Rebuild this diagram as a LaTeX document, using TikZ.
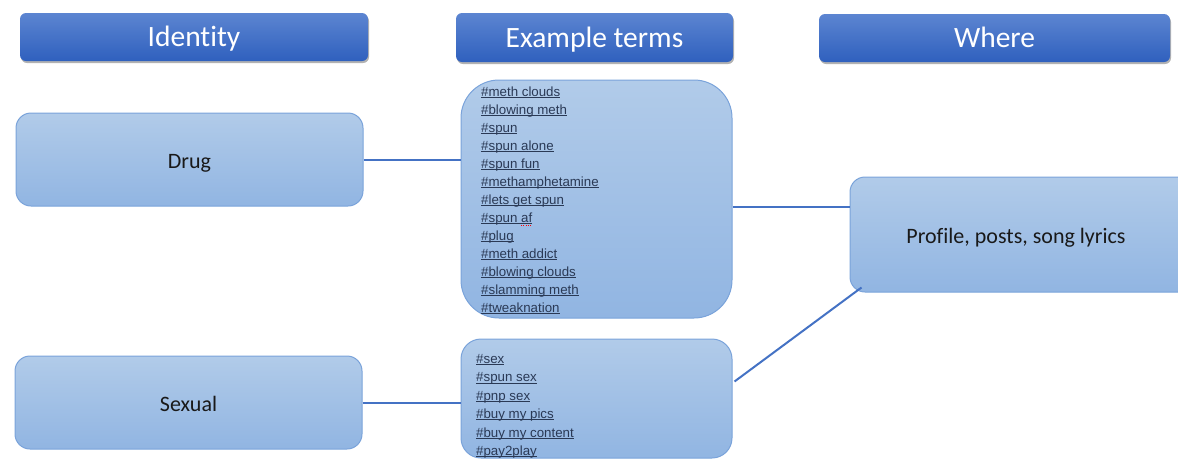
\documentclass[tikz,border=0pt]{standalone}
\usepackage{fontspec}
\setmainfont{Carlito}[Ligatures={NoCommon}]
\newfontfamily\arialf{Liberation Sans}
\usetikzlibrary{shadows}
\definecolor{hdtop}{HTML}{5C85D1}
\definecolor{hdbot}{HTML}{2F60BE}
\definecolor{bxtop}{HTML}{B1CBE9}
\definecolor{bxbot}{HTML}{91B5E2}
\definecolor{bxline}{HTML}{7AA3DA}
\definecolor{conn}{HTML}{4472C4}
\definecolor{termtxt}{HTML}{2A3955}
\newcommand\hu[1]{\setbox0=\hbox{#1}\rlap{\rule[-1.4pt]{\wd0}{0.7pt}}\box0}
\newcommand\squig[1]{\setbox0=\hbox{#1}\rlap{\raisebox{-3.4pt}{\color{red}\makebox[\wd0][l]{\xleaders\hbox to 2.2pt{\rule{1.1pt}{0.8pt}\hss}\hskip\wd0}}}\box0}
\tikzset{
  header/.style={rounded corners=6pt, top color=hdtop, bottom color=hdbot, draw=none,
    drop shadow={shadow xshift=1pt, shadow yshift=-2pt, opacity=0.3, fill=black},
    text=white, font=\fontsize{29.5}{32}\selectfont, inner sep=0pt,
    text height=19.5pt, text depth=0pt},
  lbox/.style={draw=bxline, line width=1pt, top color=bxtop, bottom color=bxbot,
    inner sep=0pt},
  lbl/.style={text=black!90, font=\fontsize{22}{24}\selectfont, inner sep=0pt,
    text height=18pt, text depth=0pt},
  terms/.style={anchor=north west, inner sep=0pt, align=left, text=termtxt},
  conn/.style={draw=conn, line width=2pt}
}
\begin{document}
\begin{tikzpicture}[x=1pt,y=-1pt]
\useasboundingbox (0,0) rectangle (1178,459);
% headers
\node[header, minimum width=348pt, minimum height=48pt] (hid) at (194,37) {Identity};
\node[header, minimum width=277pt, minimum height=49pt] (hex) at (594.5,37.5) {Example terms};
\node[header, minimum width=351pt, minimum height=48pt] (hwh) at (994.5,38) {Where};
% identity boxes
\node[lbox, lbl, rounded corners=15pt, minimum width=347pt, minimum height=93pt] (drug) at (189.5,159.5) {Drug};
\node[lbox, lbl, rounded corners=15pt, minimum width=347pt, minimum height=93pt] (sexual) at (188.5,402.5) {Sexual};
% term boxes
\node[lbox, rounded corners=38pt, minimum width=271pt, minimum height=238pt] (dterms) at (596.5,199) {};
\node[lbox, rounded corners=20pt, minimum width=271pt, minimum height=119pt] (sterms) at (596.5,398.5) {};
% where box
\node[lbox, rounded corners=15pt, minimum width=360pt, minimum height=115pt] (where) at (1030,234.5) {};
\node[lbl] (wlabel) at (1016,234.5) {Profile, posts, song lyrics};
% term lists
\node[terms, font=\arialf\fontsize{13.3}{18}\selectfont] (dlist) at (481,83.4) {%
\strut\hu{\#meth clouds}\\
\strut\hu{\#blowing meth}\\
\strut\hu{\#spun}\\
\strut\hu{\#spun alone}\\
\strut\hu{\#spun fun}\\
\strut\hu{\#methamphetamine}\\
\strut\hu{\#lets get spun}\\
\strut\hu{\#spun \squig{af}}\\
\strut\hu{\#plug}\\
\strut\hu{\#meth addict}\\
\strut\hu{\#blowing clouds}\\
\strut\hu{\#slamming meth}\\
\strut\hu{\#tweaknation}};
\node[terms, font=\arialf\fontsize{13.3}{18.4}\selectfont] (slist) at (476,350.4) {%
\strut\hu{\#sex}\\
\strut\hu{\#spun sex}\\
\strut\hu{\#pnp sex}\\
\strut\hu{\#buy my pics}\\
\strut\hu{\#buy my content}\\
\strut\hu{\#pay2play}};
% connectors
\draw[conn] (drug.east) -- (drug.east -| dterms.west);
\draw[conn] (sexual.east) -- (sexual.east -| sterms.west);
\draw[conn] ([yshift=-8pt]dterms.east) -- ([yshift=-8pt]dterms.east -| where.west);
\draw[conn] ([xshift=2pt,yshift=17pt]sterms.east) -- ([xshift=12pt,yshift=5pt]where.south west);
\end{tikzpicture}
\end{document}
